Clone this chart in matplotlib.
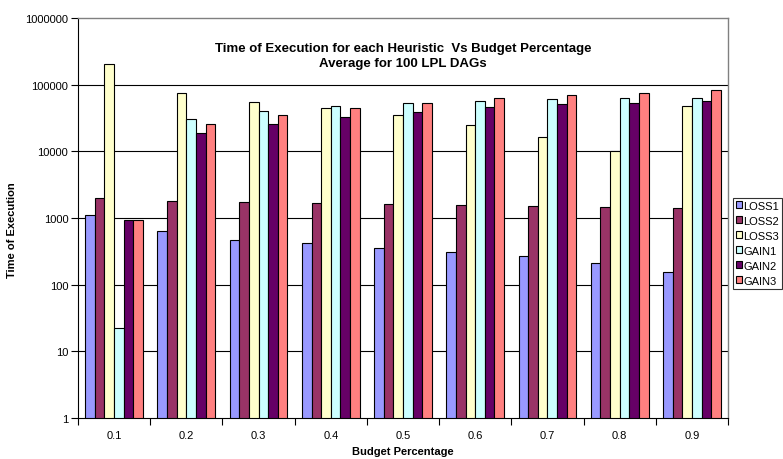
import matplotlib
matplotlib.use("Agg")
import matplotlib.pyplot as plt
import numpy as np
from matplotlib.ticker import FixedLocator, NullLocator, FixedFormatter, NullFormatter

plt.rcParams['font.family'] = ['Liberation Sans', 'DejaVu Sans']

# data
budgets = ['0.1', '0.2', '0.3', '0.4', '0.5', '0.6', '0.7', '0.8', '0.9']
series_names = ['LOSS1', 'LOSS2', 'LOSS3', 'GAIN1', 'GAIN2', 'GAIN3']
loss1 = [1120, 638, 473, 417, 351, 309, 266, 214, 153]
loss2 = [1975, 1820, 1720, 1660, 1620, 1550, 1500, 1445, 1430]
loss3 = [202000, 74000, 54300, 44200, 34700, 24800, 16600, 10000, 47900]
gain1 = [21.6, 30500, 39800, 47900, 52500, 56900, 60300, 63000, 63800]
gain2 = [933, 19000, 26000, 33000, 38500, 45700, 50700, 53600, 56300]
gain3 = [940, 25400, 35000, 44000, 53700, 62400, 70000, 75000, 83200]
ytick_labels = ['1', '10', '100', '1000', '10000', '100000', '1000000']

colors = ['#9999FF', '#993366', '#FFFFCC', '#CCFFFF', '#660066', '#FF8080']
series = [loss1, loss2, loss3, gain1, gain2, gain3]

fig = plt.figure(figsize=(7.83, 4.60), dpi=100)
ax = fig.add_axes([78 / 783, 41 / 460, 650 / 783, 400 / 460])

x = np.arange(len(budgets))
w = 1.0 / 7.5
for i, (vals, c, name) in enumerate(zip(series, colors, series_names)):
    off = (i - 2.5) * w
    # faint shadow behind each bar
    ax.bar(x + off + 0.012, vals, width=w, bottom=1, color='#a0a0a0',
           edgecolor='none', zorder=2, align='center')
    ax.bar(x + off, vals, width=w, bottom=1, color=c, edgecolor='black',
           linewidth=0.8, zorder=3, label=name)

ax.set_yscale('log')
ax.set_ylim(1, 1e6)
ax.set_xlim(-0.5, len(budgets) - 0.5)

yt = [10 ** k for k in range(7)]
ax.yaxis.set_major_locator(FixedLocator(yt))
ax.yaxis.set_major_formatter(FixedFormatter(ytick_labels))
ax.yaxis.set_minor_locator(NullLocator())
ax.yaxis.set_minor_formatter(NullFormatter())
for v in yt[1:-1]:
    ax.axhline(v, color='black', lw=0.8, zorder=1)

# x ticks at the group boundaries, labels at centres
ax.set_xticks(np.arange(-0.5, len(budgets)), minor=False)
ax.set_xticklabels([])
ax.set_xticks(x, minor=True)
ax.set_xticklabels(budgets, minor=True)
ax.tick_params(axis='x', which='minor', length=0, pad=9, labelsize=8)
ax.tick_params(axis='x', which='major', length=5, width=0.8, direction='out')
ax.tick_params(axis='y', length=5, width=0.8, labelsize=8, pad=2)

for s in ['top', 'right']:
    ax.spines[s].set_color('#808080')
    ax.spines[s].set_linewidth(1.0)
for s in ['left', 'bottom']:
    ax.spines[s].set_color('black')
    ax.spines[s].set_linewidth(0.8)

ax.text(0.5, 0.94, 'Time of Execution for each Heuristic  Vs Budget Percentage\nAverage for 100 LPL DAGs',
        transform=ax.transAxes, ha='center', va='top', fontsize=9.5,
        fontweight='bold', linespacing=1.3)

ax.set_ylabel('Time of Execution', fontsize=8, fontweight='bold')
ax.yaxis.set_label_coords(17 / 783, 0.5, transform=fig.transFigure)
ax.set_xlabel('Budget Percentage', fontsize=8, fontweight='bold', labelpad=4)

leg = fig.legend(loc='upper left', bbox_to_anchor=(733 / 783, 1 - 199 / 460),
                 fontsize=8, frameon=True, fancybox=False, handlelength=0.6,
                 handleheight=0.6, handletextpad=0.1, borderpad=0.25,
                 labelspacing=0.45, borderaxespad=0)
leg.get_frame().set_edgecolor('black')
leg.get_frame().set_linewidth(0.8)

fig.savefig('out.png', dpi=100)
